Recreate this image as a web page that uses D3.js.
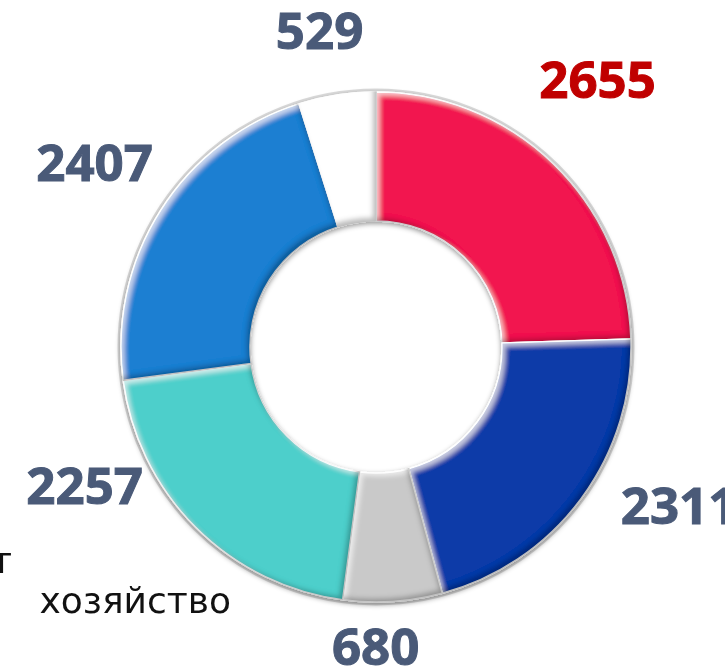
<!DOCTYPE html>
<html>
<head>
<meta charset="utf-8" />
<title>Donut</title>
<script src="https://cdn.jsdelivr.net/npm/d3@7"></script>
<style>
  body { margin: 0; background: #fff; overflow: hidden; }
</style>
</head>
<body>
</body>
<script charset="utf-8">

    var width = 725;
    var height = 671;

    // данные
    var values = [2655, 2311, 680, 2257, 2407, 529];
    var colors = ['#f2134f', '#0a3ba8', '#c9c9c9', '#4ecfcb', '#1e7fd2', '#ffffff'];
    var labelColors = ['#c00000', '#4a5a78', '#4a5a78', '#4a5a78', '#4a5a78', '#4a5a78'];
    var legendLines = ['транспорт', 'хозяйство'];

    // ручная подгонка подписей (смещение от центроида внешней дуги)
    var labelShift = [[-8, -30], [38, -37], [-22, -29], [-58, -94], [-3, -7], [-6, 10]];

    var cx = 376, cy = 347;
    var outerR = 255, innerR = 126;

    var svg = d3.select('body').append('svg').attr('width', width).attr('height', height);

    var defs = svg.append('defs');
    var f = defs.append('filter').attr('id', 'bevel')
        .attr('x', '-10%').attr('y', '-10%').attr('width', '120%').attr('height', '120%');
    // светлый край сверху-слева
    f.append('feOffset').attr('in', 'SourceAlpha').attr('dx', 4).attr('dy', 4).attr('result', 'o1');
    f.append('feGaussianBlur').attr('in', 'o1').attr('stdDeviation', 2.5).attr('result', 'b1');
    f.append('feComposite').attr('in', 'SourceAlpha').attr('in2', 'b1').attr('operator', 'out').attr('result', 'e1');
    f.append('feFlood').attr('flood-color', '#ffffff').attr('flood-opacity', 0.6).attr('result', 'w');
    f.append('feComposite').attr('in', 'w').attr('in2', 'e1').attr('operator', 'in').attr('result', 'hi');
    // тёмный край снизу-справа
    f.append('feOffset').attr('in', 'SourceAlpha').attr('dx', -4).attr('dy', -4).attr('result', 'o2');
    f.append('feGaussianBlur').attr('in', 'o2').attr('stdDeviation', 2.5).attr('result', 'b2');
    f.append('feComposite').attr('in', 'SourceAlpha').attr('in2', 'b2').attr('operator', 'out').attr('result', 'e2');
    f.append('feFlood').attr('flood-color', '#000000').attr('flood-opacity', 0.5).attr('result', 'k');
    f.append('feComposite').attr('in', 'k').attr('in2', 'e2').attr('operator', 'in').attr('result', 'lo');
    var m = f.append('feMerge');
    m.append('feMergeNode').attr('in', 'SourceGraphic');
    m.append('feMergeNode').attr('in', 'hi');
    m.append('feMergeNode').attr('in', 'lo');

    var shadow = defs.append('filter').attr('id', 'shadow')
        .attr('x', '-10%').attr('y', '-10%').attr('width', '120%').attr('height', '120%');
    shadow.append('feDropShadow').attr('dx', 0).attr('dy', 2).attr('stdDeviation', 2.5)
        .attr('flood-color', '#000').attr('flood-opacity', 0.4);

    var pie = d3.pie().sort(null).value(function(d){ return d; });
    var arcs = pie(values);

    var arcPath = d3.arc().innerRadius(innerR).outerRadius(outerR);
    var labelArc = d3.arc().innerRadius(330).outerRadius(330);

    var g = svg.append('g').attr('transform', 'translate(' + cx + ',' + cy + ')');

    // светлый ободок
    g.append('circle').attr('r', outerR + 2).attr('fill', 'none')
        .attr('stroke', '#dcdcdc').attr('stroke-width', 3);

    g.append('g').attr('filter', 'url(#shadow)')
        .selectAll('path').data(arcs).enter().append('path')
        .attr('d', function(d){ return arcPath(d); })
        .attr('fill', function(d, i){ return colors[i]; })
        .attr('stroke', '#ffffff')
        .attr('stroke-width', 1.5)
        .attr('filter', 'url(#bevel)');

    g.selectAll('text.val').data(arcs).enter().append('text')
        .attr('class', 'val')
        .text(function(d){ return d.data; })
        .attr('transform', function(d, i){
            var c = labelArc.centroid(d);
            return 'translate(' + (c[0] + labelShift[i][0]) + ',' + (c[1] + labelShift[i][1]) + ')';
        })
        .attr('text-anchor', 'middle')
        .attr('dy', '0.35em')
        .attr('fill', function(d, i){ return labelColors[i]; })
        .attr('stroke', function(d, i){ return labelColors[i]; })
        .attr('stroke-width', 1)
        .attr('font-family', '"Open Sans", sans-serif')
        .attr('font-weight', 'bold')
        .attr('font-size', '51px');

    // обрезанная подпись легенды слева
    svg.selectAll('text.leg').data(legendLines).enter().append('text')
        .attr('class', 'leg')
        .text(function(d){ return d; })
        .attr('x', function(d, i){ return i === 0 ? 12 : 231; })
        .attr('y', function(d, i){ return 573 + i * 40; })
        .attr('text-anchor', 'end')
        .attr('fill', '#111')
        .attr('font-family', '"DejaVu Sans", sans-serif')
        .attr('font-size', '36px');

</script>
</html>
